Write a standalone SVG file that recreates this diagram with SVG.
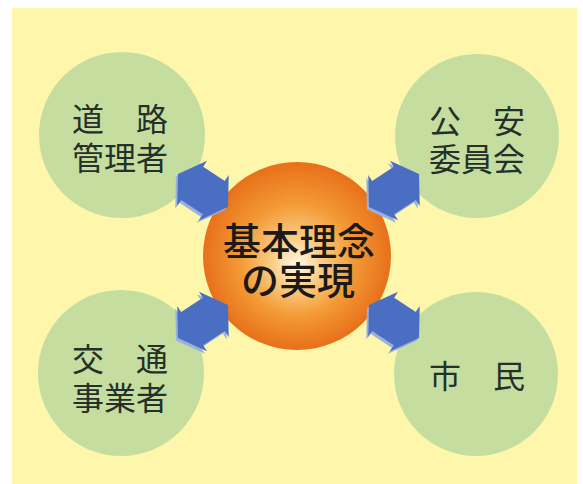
<svg xmlns="http://www.w3.org/2000/svg" width="583" height="484" viewBox="0 0 583 484">
<style>
.bg{fill:#fef6aa}
.node{fill:#c5dea0}
.lbl{font-family:"Noto Sans CJK JP","Noto Sans CJK SC",sans-serif;font-size:32px;fill:#26302a;text-anchor:middle}
.ctr{font-family:"Noto Sans CJK JP","Noto Sans CJK SC",sans-serif;font-size:38px;font-weight:500;fill:#1c1a18;text-anchor:middle}
.arr{fill:#4a6fc2}
.arrs{fill:#9bb0de}
</style>
<defs>
<radialGradient id="ball" cx="0.5" cy="0.5" r="0.5" fx="0.5" fy="0.55">
<stop offset="0" stop-color="#fffaf0"/>
<stop offset="0.25" stop-color="#fbcf8a"/>
<stop offset="0.6" stop-color="#f39a35"/>
<stop offset="1" stop-color="#e8701a"/>
</radialGradient>
<polygon id="dbl" points="-30,0 -13,-27 -13,-20 13,-20 13,-27 30,0 13,27 13,20 -13,20 -13,27"/>
</defs>
<rect class="bg" x="12" y="8" width="565" height="476"/>
<g id="node-doro">
<circle class="node" cx="122" cy="135" r="83"/>
<text class="lbl" x="120" y="131">道　路</text>
<text class="lbl" x="120" y="170">管理者</text>
</g>
<g id="node-koan">
<circle class="node" cx="477" cy="136" r="82"/>
<text class="lbl" x="477" y="133">公　安</text>
<text class="lbl" x="477" y="171">委員会</text>
</g>
<g id="node-kotsu">
<circle class="node" cx="121" cy="373" r="83"/>
<text class="lbl" x="120" y="371">交　通</text>
<text class="lbl" x="120" y="410">事業者</text>
</g>
<g id="node-shimin">
<circle class="node" cx="476" cy="374" r="82"/>
<text class="lbl" x="477" y="388">市　民</text>
</g>
<g id="node-center">
<circle cx="297" cy="256" r="94" fill="url(#ball)"/>
<text class="ctr" x="299" y="255">基本理念</text>
<text class="ctr" x="298" y="294">の実現</text>
</g>
<g id="connectors">
<use href="#dbl" class="arrs" transform="translate(201,193) rotate(33.4)"/>
<use href="#dbl" class="arr" transform="translate(203,190.5) rotate(33.4)"/>
<use href="#dbl" class="arrs" transform="translate(392,193) rotate(-33.4)"/>
<use href="#dbl" class="arr" transform="translate(394,190.5) rotate(-33.4)"/>
<use href="#dbl" class="arrs" transform="translate(201,324) rotate(-33.4)"/>
<use href="#dbl" class="arr" transform="translate(203,321.5) rotate(-33.4)"/>
<use href="#dbl" class="arrs" transform="translate(392,324) rotate(33.4)"/>
<use href="#dbl" class="arr" transform="translate(394,321.5) rotate(33.4)"/>
</g>
</svg>
